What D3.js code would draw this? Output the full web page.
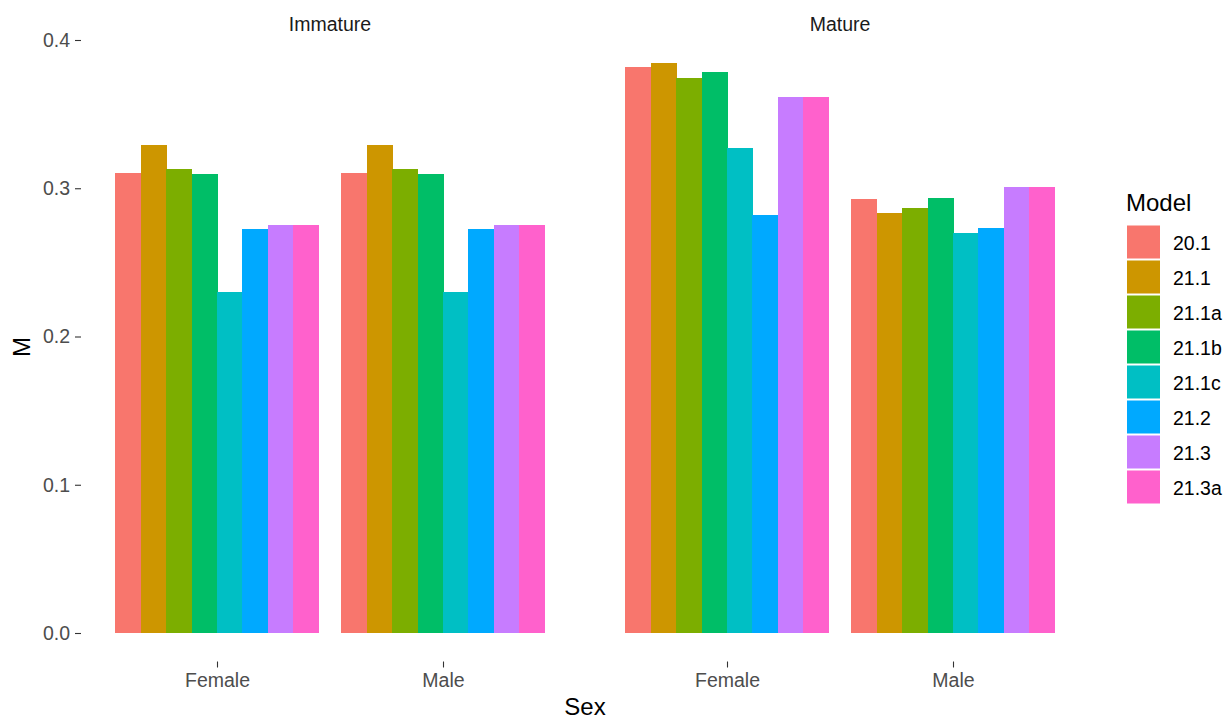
<!DOCTYPE html>
<html><head><meta charset="utf-8">
<script src="https://cdn.jsdelivr.net/npm/d3@7"></script>
<style>body{margin:0;background:#fff;} text{font-family:"Liberation Sans",Arial,sans-serif;}</style>
</head><body><svg id="c" width="1227" height="721"></svg>
<script>
const panels = ["Immature", "Mature"];
const sexes = ["Female", "Male"];
const models = ["20.1","21.1","21.1a","21.1b","21.1c","21.2","21.3","21.3a"];
const colors = ["#F8766D","#CD9600","#7CAE00","#00BE67","#00BFC4","#00A9FF","#C77CFF","#FF61CC"];
const immatureFemale = [0.310,0.329,0.313,0.3095,0.230,0.2725,0.2755,0.2755];
const immatureMale   = [0.310,0.329,0.313,0.3095,0.230,0.2725,0.2755,0.2755];
const matureFemale   = [0.382,0.3845,0.3744,0.3784,0.3272,0.282,0.3616,0.3616];
const matureMale     = [0.2927,0.2833,0.2867,0.2934,0.2698,0.2732,0.3008,0.3008];
const yTicks = [0, 0.1, 0.2, 0.3, 0.4];

const values = {Immature:{Female:immatureFemale, Male:immatureMale}, Mature:{Female:matureFemale, Male:matureMale}};

const svg = d3.select("#c");
const y = d3.scaleLinear().domain([0,0.4]).range([633,40]);
const panelBottom = 661.5;
const panelX = [[81.4,578.6],[591.4,1088.6]];
const small = "19.5px", big = "24px";

// y axis
const yAxis = svg.append("g").attr("transform","translate(81,0)")
  .call(d3.axisLeft(y).tickValues(yTicks).tickFormat(d3.format(".1f")).tickSize(6).tickPadding(5));
yAxis.select(".domain").remove();
yAxis.selectAll("line").attr("stroke","#333").attr("stroke-width",1.1);
yAxis.selectAll("text").attr("fill","#4d4d4d").style("font-size",small);

panels.forEach((p,pi)=>{
  const [x0,x1] = panelX[pi];
  const xc = d3.scaleLinear().domain([0.4,2.6]).range([x0,x1]);
  const unit = xc(2)-xc(1);
  const xm = d3.scaleBand().domain(models).range([-0.45*unit, 0.45*unit]).padding(0);
  const g = svg.append("g").attr("shape-rendering","crispEdges");
  sexes.forEach((s,si)=>{
    const cx = xc(si+1);
    g.selectAll(null).data(models.map((m,i)=>({m, v:values[p][s][i], c:colors[i]}))).enter()
      .append("rect")
      .attr("x", d=>cx + xm(d.m))
      .attr("width", xm.bandwidth()+0.5)
      .attr("y", d=>y(d.v))
      .attr("height", d=>y(0)-y(d.v))
      .attr("fill", d=>d.c);
  });
  const xa = svg.append("g").attr("transform",`translate(0,${panelBottom})`)
    .call(d3.axisBottom(xc).tickValues([1,2]).tickFormat(d=>sexes[d-1]).tickSize(6).tickPadding(6));
  xa.select(".domain").remove();
  xa.selectAll("line").attr("stroke","#333").attr("stroke-width",1.1);
  xa.selectAll("text").attr("fill","#4d4d4d").style("font-size",small);
  svg.append("text").attr("x",(x0+x1)/2).attr("y",31).attr("text-anchor","middle")
    .attr("fill","#1a1a1a").style("font-size",small).text(p);
});

// axis titles
svg.append("text").attr("x",(81.4+1088.6)/2).attr("y",715).attr("text-anchor","middle")
  .attr("fill","#000").style("font-size",big).text("Sex");
svg.append("text").attr("transform","translate(30,347) rotate(-90)").attr("text-anchor","middle")
  .attr("fill","#000").style("font-size",big).text("M");

// legend
const lg = svg.append("g");
lg.append("text").attr("x",1126).attr("y",211).attr("fill","#000").style("font-size",big).text("Model");
models.forEach((m,i)=>{
  const yy = 225.5 + i*35;
  lg.append("rect").attr("x",1127).attr("y",yy).attr("width",33).attr("height",33).attr("fill",colors[i]);
  lg.append("text").attr("x",1173).attr("y",yy+24.5).attr("fill","#000").style("font-size",small).text(m);
});
</script></body></html>
